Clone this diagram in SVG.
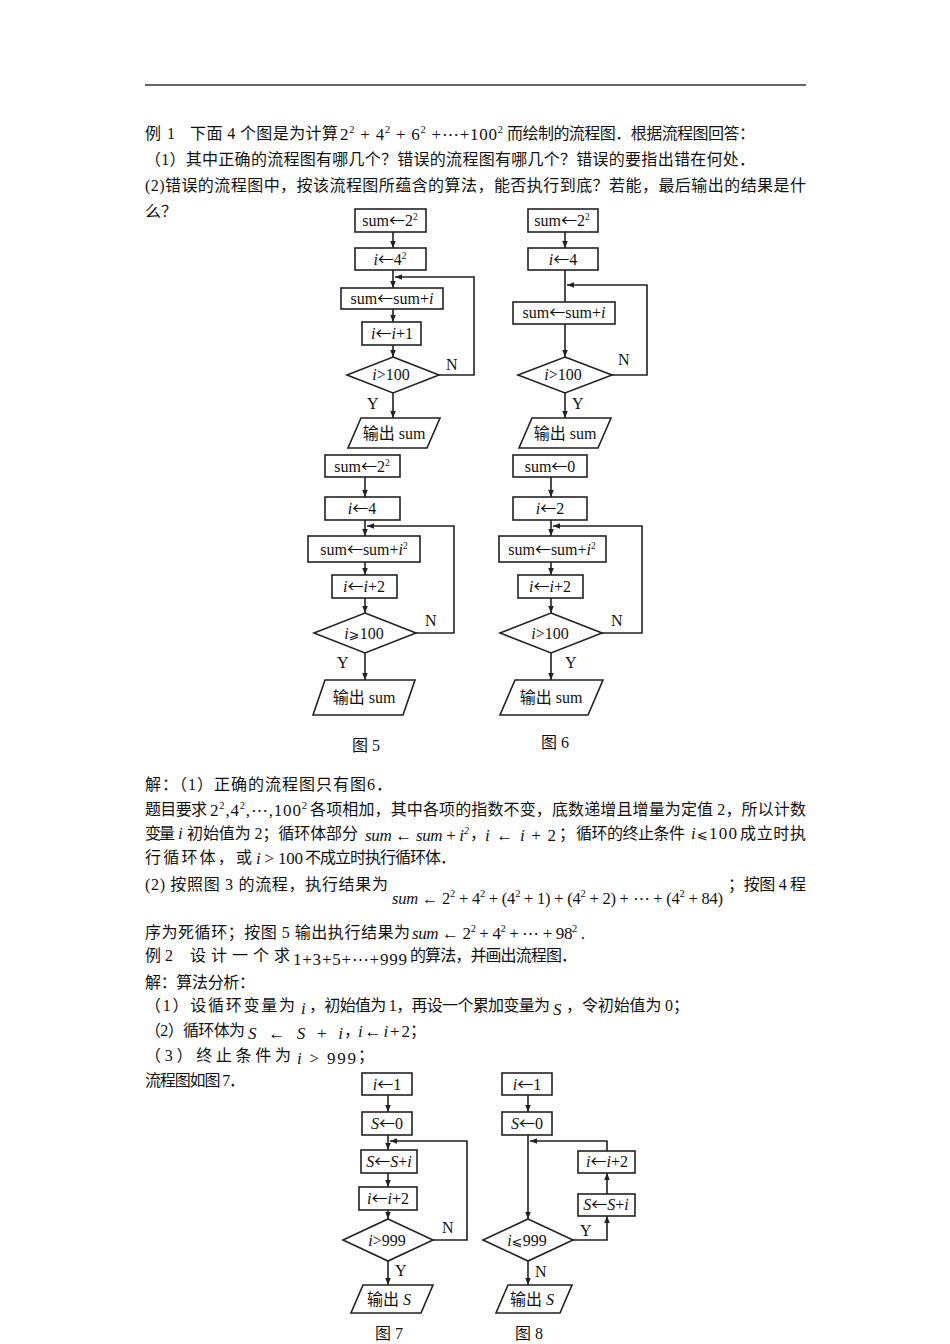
<svg xmlns="http://www.w3.org/2000/svg" width="950" height="1344" viewBox="0 0 950 1344">
<style>
.b{font-family:"Liberation Serif","Noto Sans CJK SC",serif;font-size:16px;fill:#111}
.m{font-family:"Liberation Serif","DejaVu Serif",serif;font-size:17px;fill:#111}
.mi{font-family:"Liberation Serif","DejaVu Serif",serif;font-size:17px;font-style:italic;fill:#111}
.it{font-style:italic}
.up{font-style:normal}
.sp{font-size:9.5px}
.sq{font-size:10.5px}
.ar{font-family:"Noto Sans CJK SC",sans-serif}
.box{fill:#fff;stroke:#222;stroke-width:1.6}
.ln{fill:none;stroke:#222;stroke-width:1.6}
.lb{font-family:"Liberation Serif","Noto Sans CJK SC",serif;font-size:16px;fill:#111;text-anchor:middle}
.yn{font-family:"Liberation Serif",serif;font-size:16px;fill:#111}
.cap{font-family:"Liberation Serif","Noto Sans CJK SC",serif;font-size:16px;fill:#111;text-anchor:middle}
.sym{font-family:"DejaVu Sans",sans-serif;font-size:13px}
</style>
<defs>
<marker id="ah" viewBox="0 0 10 10" refX="10" refY="5" markerWidth="7" markerHeight="7" markerUnits="userSpaceOnUse" orient="auto"><path d="M0,1 L10,5 L0,9 z" fill="#222"/></marker>
</defs>

<line x1="145" y1="85" x2="806" y2="85" stroke="#333" stroke-width="1.5"/>

<!-- Body text top -->
<g id="text-top">
<text class="b" x="145" y="139" textLength="30" lengthAdjust="spacing">例 1</text>
<text class="b" x="190" y="139" textLength="148" lengthAdjust="spacing">下面 4 个图是为计算</text>
<text class="m" x="340" y="140" textLength="163" lengthAdjust="spacing">2<tspan class="sq" dy="-7">2</tspan><tspan dy="7"> + 4</tspan><tspan class="sq" dy="-7">2</tspan><tspan dy="7"> + 6</tspan><tspan class="sq" dy="-7">2</tspan><tspan dy="7"> +⋯+100</tspan><tspan class="sq" dy="-7">2</tspan></text>
<text class="b" x="507" y="139" textLength="248" lengthAdjust="spacing">而绘制的流程图．根据流程图回答：</text>
<text class="b" x="145" y="165" textLength="610" lengthAdjust="spacing">（1）其中正确的流程图有哪几个？错误的流程图有哪几个？错误的要指出错在何处．</text>
<text class="b" x="145" y="191" textLength="661" lengthAdjust="spacing">(2)错误的流程图中，按该流程图所蕴含的算法，能否执行到底？若能，最后输出的结果是什</text>
<text class="b" x="145" y="217">么？</text>
</g>

<!-- Connectors -->
<g id="connectors" class="ln">
<!-- Fig 3 -->
<path d="M393,232 V248" marker-end="url(#ah)"/>
<path d="M393,270 V288" marker-end="url(#ah)"/>
<path d="M393,309 V322" marker-end="url(#ah)"/>
<path d="M393,345 V357" marker-end="url(#ah)"/>
<path d="M393,393 V418" marker-end="url(#ah)"/>
<path d="M439,375 H474 V277 H395" marker-end="url(#ah)"/>
<!-- Fig 4 -->
<path d="M565,232 V248" marker-end="url(#ah)"/>
<path d="M565,270 V302"/>
<path d="M565,324 V357" marker-end="url(#ah)"/>
<path d="M565,393 V418" marker-end="url(#ah)"/>
<path d="M612,375 H647 V285 H567" marker-end="url(#ah)"/>
<!-- Fig 5 -->
<path d="M365,477 V497" marker-end="url(#ah)"/>
<path d="M365,520 V536" marker-end="url(#ah)"/>
<path d="M365,562 V575" marker-end="url(#ah)"/>
<path d="M365,598 V613" marker-end="url(#ah)"/>
<path d="M365,653 V680" marker-end="url(#ah)"/>
<path d="M416,633 H454 V526 H367" marker-end="url(#ah)"/>
<!-- Fig 6 -->
<path d="M551,477 V497" marker-end="url(#ah)"/>
<path d="M551,520 V536" marker-end="url(#ah)"/>
<path d="M551,562 V575" marker-end="url(#ah)"/>
<path d="M551,598 V613" marker-end="url(#ah)"/>
<path d="M551,653 V680" marker-end="url(#ah)"/>
<path d="M602,633 H642 V526 H553" marker-end="url(#ah)"/>
<!-- Fig 7 -->
<path d="M388,1095 V1112" marker-end="url(#ah)"/>
<path d="M388,1135 V1150" marker-end="url(#ah)"/>
<path d="M388,1173 V1187" marker-end="url(#ah)"/>
<path d="M388,1210 V1219" marker-end="url(#ah)"/>
<path d="M388,1261 V1285" marker-end="url(#ah)"/>
<path d="M433,1240 H467 V1141 H390" marker-end="url(#ah)"/>
<!-- Fig 8 -->
<path d="M528,1095 V1112" marker-end="url(#ah)"/>
<path d="M528,1135 V1219" marker-end="url(#ah)"/>
<path d="M528,1261 V1285" marker-end="url(#ah)"/>
<path d="M573,1240 H607 V1216" marker-end="url(#ah)"/>
<path d="M607,1194 V1173" marker-end="url(#ah)"/>
<path d="M607,1151 V1141 H530" marker-end="url(#ah)"/>
</g>

<!-- Fig 3 nodes -->
<g id="f3-n1"><rect class="box" x="355" y="209" width="71" height="23"/><text class="lb" x="390" y="226">sum<tspan class="ar">←</tspan>2<tspan class="sp" dy="-6">2</tspan></text></g>
<g id="f3-n2"><rect class="box" x="355" y="248" width="71" height="22"/><text class="lb" x="390" y="265"><tspan class="it">i</tspan><tspan class="ar">←</tspan>4<tspan class="sp" dy="-6">2</tspan></text></g>
<g id="f3-n3"><rect class="box" x="341" y="288" width="102" height="21"/><text class="lb" x="392" y="304">sum<tspan class="ar">←</tspan>sum+<tspan class="it">i</tspan></text></g>
<g id="f3-n4"><rect class="box" x="362" y="322" width="59" height="23"/><text class="lb" x="392" y="339"><tspan class="it">i</tspan><tspan class="ar">←</tspan><tspan class="it">i</tspan>+1</text></g>
<g id="f3-n5"><path class="box" d="M393,357 L439,375 L393,393 L347,375 Z"/><text class="lb" x="391" y="380"><tspan class="it">i</tspan>&gt;100</text></g>
<g id="f3-n6"><path class="box" d="M361,418 L440,418 L427,448 L348,448 Z"/><text class="lb" x="394" y="439">输出 sum</text></g>
<text class="yn" x="446" y="370">N</text>
<text class="yn" x="367" y="409">Y</text>

<!-- Fig 4 nodes -->
<g id="f4-n1"><rect class="box" x="528" y="209" width="70" height="23"/><text class="lb" x="562" y="226">sum<tspan class="ar">←</tspan>2<tspan class="sp" dy="-6">2</tspan></text></g>
<g id="f4-n2"><rect class="box" x="528" y="248" width="70" height="22"/><text class="lb" x="563" y="265"><tspan class="it">i</tspan><tspan class="ar">←</tspan>4</text></g>
<g id="f4-n3"><rect class="box" x="513" y="302" width="102" height="22"/><text class="lb" x="564" y="318">sum<tspan class="ar">←</tspan>sum+<tspan class="it">i</tspan></text></g>
<g id="f4-n4"><path class="box" d="M565,357 L612,375 L565,393 L518,375 Z"/><text class="lb" x="563" y="380"><tspan class="it">i</tspan>&gt;100</text></g>
<g id="f4-n5"><path class="box" d="M532,418 L611,418 L598,448 L519,448 Z"/><text class="lb" x="565" y="439">输出 sum</text></g>
<text class="yn" x="618" y="365">N</text>
<text class="yn" x="572" y="409">Y</text>

<!-- Fig 5 nodes -->
<g id="f5-n1"><rect class="box" x="325" y="455" width="75" height="22"/><text class="lb" x="362" y="472">sum<tspan class="ar">←</tspan>2<tspan class="sp" dy="-6">2</tspan></text></g>
<g id="f5-n2"><rect class="box" x="325" y="497" width="75" height="23"/><text class="lb" x="362" y="514"><tspan class="it">i</tspan><tspan class="ar">←</tspan>4</text></g>
<g id="f5-n3"><rect class="box" x="308" y="536" width="112" height="26"/><text class="lb" x="364" y="555">sum<tspan class="ar">←</tspan>sum+<tspan class="it">i</tspan><tspan class="sp" dy="-6">2</tspan></text></g>
<g id="f5-n4"><rect class="box" x="332" y="575" width="65" height="23"/><text class="lb" x="364" y="592"><tspan class="it">i</tspan><tspan class="ar">←</tspan><tspan class="it">i</tspan>+2</text></g>
<g id="f5-n5"><path class="box" d="M365,613 L416,633 L365,653 L314,633 Z"/><text class="lb" x="364" y="639"><tspan class="it">i</tspan><tspan class="sym">⩾</tspan>100</text></g>
<g id="f5-n6"><path class="box" d="M325,680 L415,680 L403,715 L313,715 Z"/><text class="lb" x="364" y="703">输出 sum</text></g>
<text class="yn" x="425" y="626">N</text>
<text class="yn" x="337" y="668">Y</text>
<text class="cap" x="366" y="751">图 5</text>

<!-- Fig 6 nodes -->
<g id="f6-n1"><rect class="box" x="513" y="455" width="74" height="22"/><text class="lb" x="550" y="472">sum<tspan class="ar">←</tspan>0</text></g>
<g id="f6-n2"><rect class="box" x="513" y="497" width="74" height="23"/><text class="lb" x="550" y="514"><tspan class="it">i</tspan><tspan class="ar">←</tspan>2</text></g>
<g id="f6-n3"><rect class="box" x="499" y="536" width="107" height="26"/><text class="lb" x="552" y="555">sum<tspan class="ar">←</tspan>sum+<tspan class="it">i</tspan><tspan class="sp" dy="-6">2</tspan></text></g>
<g id="f6-n4"><rect class="box" x="518" y="575" width="65" height="23"/><text class="lb" x="550" y="592"><tspan class="it">i</tspan><tspan class="ar">←</tspan><tspan class="it">i</tspan>+2</text></g>
<g id="f6-n5"><path class="box" d="M551,613 L602,633 L551,653 L500,633 Z"/><text class="lb" x="550" y="639"><tspan class="it">i</tspan>&gt;100</text></g>
<g id="f6-n6"><path class="box" d="M515,680 L603,680 L588,715 L500,715 Z"/><text class="lb" x="551" y="703">输出 sum</text></g>
<text class="yn" x="611" y="626">N</text>
<text class="yn" x="565" y="668">Y</text>
<text class="cap" x="555" y="748">图 6</text>

<!-- Body text middle -->
<g id="text-mid">
<text class="b" x="145" y="790" textLength="247" lengthAdjust="spacing">解：（1）正确的流程图只有图6．</text>
<text class="b" x="145" y="815" textLength="62" lengthAdjust="spacing">题目要求</text>
<text class="m" x="210" y="816" textLength="97" lengthAdjust="spacing">2<tspan class="sq" dy="-7">2</tspan><tspan dy="7">,4</tspan><tspan class="sq" dy="-7">2</tspan><tspan dy="7">,⋯,100</tspan><tspan class="sq" dy="-7">2</tspan></text>
<text class="b" x="310" y="815" textLength="496" lengthAdjust="spacing">各项相加，其中各项的指数不变，底数递增且增量为定值 2，所以计数</text>
<text class="b" x="145" y="839" textLength="30" lengthAdjust="spacing">变量</text>
<text class="mi" x="178" y="839">i</text>
<text class="b" x="187" y="839" textLength="171" lengthAdjust="spacing">初始值为 2；循环体部分</text>
<text class="mi" x="365" y="841" textLength="104" lengthAdjust="spacing">sum ← sum <tspan class="up">+</tspan> i<tspan class="sq" dy="-7">2</tspan></text>
<text class="b" x="470" y="839">，</text>
<text class="mi" x="485" y="841" textLength="71" lengthAdjust="spacing">i ← i <tspan class="up">+ 2</tspan></text>
<text class="b" x="559" y="839">；</text>
<text class="b" x="576" y="839" textLength="109" lengthAdjust="spacing">循环的终止条件</text>
<text class="m" x="691" y="839" textLength="46" lengthAdjust="spacing"><tspan class="it">i</tspan><tspan class="sym">⩽</tspan>100</text>
<text class="b" x="740" y="839" textLength="66" lengthAdjust="spacing">成立时执</text>
<text class="b" x="145" y="863" textLength="107" lengthAdjust="spacing">行循环体，或</text>
<text class="m" x="256" y="864" textLength="47" lengthAdjust="spacing"><tspan class="it">i</tspan> &gt; 100</text>
<text class="b" x="305" y="863" textLength="151" lengthAdjust="spacing">不成立时执行循环体．</text>
<text class="b" x="145" y="890" textLength="243" lengthAdjust="spacing">(2) 按照图 3 的流程，执行结果为</text>
<text class="m" x="392" y="904" textLength="331" lengthAdjust="spacing" style="font-size:16.5px"><tspan class="it">sum</tspan> ← 2<tspan class="sq" dy="-7">2</tspan><tspan dy="7"> + 4</tspan><tspan class="sq" dy="-7">2</tspan><tspan dy="7"> + (4</tspan><tspan class="sq" dy="-7">2</tspan><tspan dy="7"> + 1) + (4</tspan><tspan class="sq" dy="-7">2</tspan><tspan dy="7"> + 2) + ⋯ + (4</tspan><tspan class="sq" dy="-7">2</tspan><tspan dy="7"> + 84)</tspan></text>
<text class="b" x="728" y="890" textLength="78" lengthAdjust="spacing">；按图 4 程</text>
<text class="b" x="145" y="938" textLength="265" lengthAdjust="spacing">序为死循环；按图 5 输出执行结果为</text>
<text class="m" x="412" y="939" textLength="173" lengthAdjust="spacing"><tspan class="it">sum</tspan> ← 2<tspan class="sq" dy="-7">2</tspan><tspan dy="7"> + 4</tspan><tspan class="sq" dy="-7">2</tspan><tspan dy="7"> + ⋯ + 98</tspan><tspan class="sq" dy="-7">2</tspan><tspan dy="7"> .</tspan></text>
<text class="b" x="145" y="961" textLength="28" lengthAdjust="spacing">例 2</text>
<text class="b" x="190" y="961" textLength="100" lengthAdjust="spacing">设计一个求</text>
<text class="m" x="293" y="965" textLength="114" lengthAdjust="spacing">1+3+5+⋯+999</text>
<text class="b" x="410" y="961" textLength="167" lengthAdjust="spacing">的算法，并画出流程图．</text>
<text class="b" x="145" y="988" textLength="110" lengthAdjust="spacing">解：算法分析：</text>
<text class="b" x="145" y="1011" textLength="150" lengthAdjust="spacing">（1）设循环变量为</text>
<text class="mi" x="301" y="1014">i</text>
<text class="b" x="309" y="1011" textLength="241" lengthAdjust="spacing">，初始值为 1，再设一个累加变量为</text>
<text class="mi" x="553" y="1015">S</text>
<text class="b" x="566" y="1011" textLength="123" lengthAdjust="spacing">，令初始值为 0；</text>
<text class="b" x="145" y="1036" textLength="100" lengthAdjust="spacing">（2）循环体为</text>
<text class="mi" x="248" y="1039" textLength="95" lengthAdjust="spacing">S ← S <tspan class="up">+</tspan> i</text>
<text class="b" x="344" y="1036">，</text>
<text class="mi" x="358" y="1037" textLength="52" lengthAdjust="spacing">i ← i <tspan class="up">+ 2</tspan></text>
<text class="b" x="410" y="1036">；</text>
<text class="b" x="145" y="1061" textLength="146" lengthAdjust="spacing">（3）终止条件为</text>
<text class="m" x="297" y="1064" textLength="59" lengthAdjust="spacing"><tspan class="it">i</tspan> &gt; 999</text>
<text class="b" x="358" y="1061">；</text>
<text class="b" x="145" y="1086" textLength="100" lengthAdjust="spacing">流程图如图 7．</text>
</g>

<!-- Fig 7 nodes -->
<g id="f7-n1"><rect class="box" x="362" y="1073" width="50" height="22"/><text class="lb" x="387" y="1090"><tspan class="it">i</tspan><tspan class="ar">←</tspan>1</text></g>
<g id="f7-n2"><rect class="box" x="362" y="1112" width="50" height="23"/><text class="lb" x="387" y="1129"><tspan class="it">S</tspan><tspan class="ar">←</tspan>0</text></g>
<g id="f7-n3"><rect class="box" x="361" y="1150" width="56" height="23"/><text class="lb" x="389" y="1167"><tspan class="it">S</tspan><tspan class="ar">←</tspan><tspan class="it">S</tspan>+<tspan class="it">i</tspan></text></g>
<g id="f7-n4"><rect class="box" x="359" y="1187" width="58" height="23"/><text class="lb" x="388" y="1204"><tspan class="it">i</tspan><tspan class="ar">←</tspan><tspan class="it">i</tspan>+2</text></g>
<g id="f7-n5"><path class="box" d="M388,1219 L433,1240 L388,1261 L343,1240 Z"/><text class="lb" x="387" y="1246"><tspan class="it">i</tspan>&gt;999</text></g>
<g id="f7-n6"><path class="box" d="M363,1285 L433,1285 L421,1313 L351,1313 Z"/><text class="lb" x="389" y="1305">输出 <tspan class="it">S</tspan></text></g>
<text class="yn" x="442" y="1233">N</text>
<text class="yn" x="395" y="1276">Y</text>
<text class="cap" x="389" y="1339">图 7</text>

<!-- Fig 8 nodes -->
<g id="f8-n1"><rect class="box" x="502" y="1073" width="50" height="22"/><text class="lb" x="527" y="1090"><tspan class="it">i</tspan><tspan class="ar">←</tspan>1</text></g>
<g id="f8-n2"><rect class="box" x="502" y="1112" width="50" height="23"/><text class="lb" x="527" y="1129"><tspan class="it">S</tspan><tspan class="ar">←</tspan>0</text></g>
<g id="f8-n3"><path class="box" d="M528,1219 L573,1240 L528,1261 L483,1240 Z"/><text class="lb" x="527" y="1246"><tspan class="it">i</tspan><tspan class="sym">⩽</tspan>999</text></g>
<g id="f8-n4"><rect class="box" x="578" y="1194" width="57" height="22"/><text class="lb" x="606" y="1210"><tspan class="it">S</tspan><tspan class="ar">←</tspan><tspan class="it">S</tspan>+<tspan class="it">i</tspan></text></g>
<g id="f8-n5"><rect class="box" x="578" y="1151" width="57" height="22"/><text class="lb" x="607" y="1167"><tspan class="it">i</tspan><tspan class="ar">←</tspan><tspan class="it">i</tspan>+2</text></g>
<g id="f8-n6"><path class="box" d="M508,1285 L572,1285 L560,1313 L496,1313 Z"/><text class="lb" x="532" y="1305">输出 <tspan class="it">S</tspan></text></g>
<text class="yn" x="580" y="1236">Y</text>
<text class="yn" x="535" y="1277">N</text>
<text class="cap" x="529" y="1339">图 8</text>
</svg>
